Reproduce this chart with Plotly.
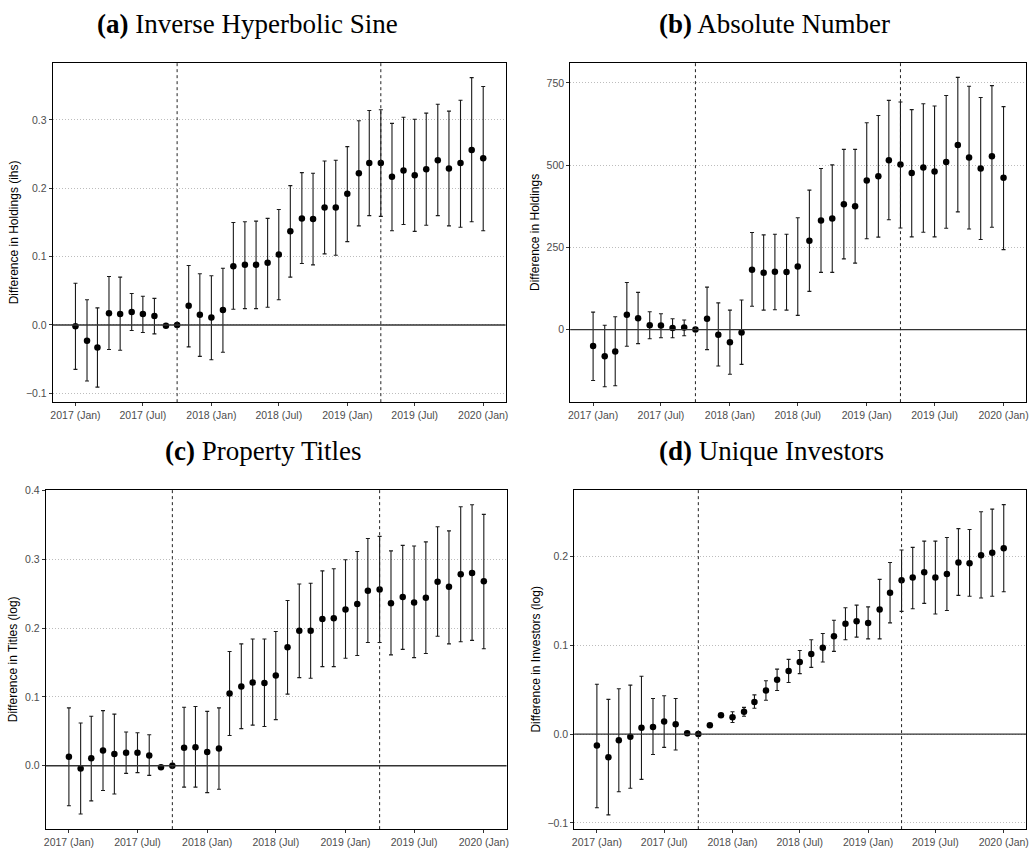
import plotly.graph_objects as go

months = ["2017-01-01","2017-02-01","2017-03-01","2017-04-01","2017-05-01","2017-06-01",
          "2017-07-01","2017-08-01","2017-09-01","2017-10-01","2017-11-01","2017-12-01",
          "2018-01-01","2018-02-01","2018-03-01","2018-04-01","2018-05-01","2018-06-01",
          "2018-07-01","2018-08-01","2018-09-01","2018-10-01","2018-11-01","2018-12-01",
          "2019-01-01","2019-02-01","2019-03-01","2019-04-01","2019-05-01","2019-06-01",
          "2019-07-01","2019-08-01","2019-09-01","2019-10-01","2019-11-01","2019-12-01",
          "2020-01-01"]

tick_vals = ["2017-01-01","2017-07-01","2018-01-01","2018-07-01","2019-01-01","2019-07-01","2020-01-01"]
tick_text = ["2017 (Jan)","2017 (Jul)","2018 (Jan)","2018 (Jul)","2019 (Jan)","2019 (Jul)","2020 (Jan)"]
event_dates = ["2017-10-01", "2019-04-01"]

titles = ["<b>(a)</b> Inverse Hyperbolic Sine", "<b>(b)</b> Absolute Number",
          "<b>(c)</b> Property Titles", "<b>(d)</b> Unique Investors"]
ytitles = ["Difference in Holdings (ihs)", "Difference in Holdings",
           "Difference in Titles (log)", "Difference in Investors (log)"]

# (a) Inverse hyperbolic sine
a_est = [-0.002,-0.023,-0.033,0.017,0.016,0.019,0.016,0.013,-0.001,0.0,0.028,0.015,0.011,0.022,
         0.086,0.088,0.088,0.091,0.103,0.137,0.156,0.155,0.172,0.172,0.192,0.222,0.237,0.237,
         0.217,0.226,0.219,0.228,0.241,0.229,0.237,0.256,0.244]
a_lo = [-0.065,-0.082,-0.091,-0.036,-0.037,-0.008,-0.011,-0.013,-0.002,0.0,-0.032,-0.046,-0.051,-0.040,
        0.023,0.024,0.024,0.026,0.037,0.070,0.090,0.088,0.104,0.102,0.122,0.145,0.160,0.159,
        0.138,0.147,0.137,0.146,0.160,0.145,0.143,0.151,0.138]
a_hi = [0.061,0.037,0.025,0.071,0.070,0.046,0.042,0.039,0.000,0.0,0.087,0.075,0.072,0.083,
        0.150,0.151,0.152,0.156,0.169,0.204,0.223,0.222,0.240,0.241,0.261,0.299,0.314,0.315,
        0.295,0.304,0.301,0.310,0.323,0.313,0.329,0.362,0.349]

# (b) Absolute number
b_est = [-50,-81,-67,45,34,13,12,5,6,0,33,-16,-39,-9,182,173,176,175,192,270,332,338,381,375,
         453,466,515,502,476,493,481,510,561,523,490,527,462]
b_lo = [-155,-174,-171,-51,-43,-28,-25,-25,-19,0,-61,-111,-136,-106,71,59,60,59,43,116,174,174,215,202,
        276,281,334,309,282,296,282,308,358,306,274,311,243]
b_hi = [53,13,39,143,113,54,48,33,29,0,129,81,59,90,295,288,290,290,340,424,490,501,548,548,
        629,651,697,692,669,687,680,712,767,740,706,742,678]

# (c) Property titles
c_est = [0.013,-0.004,0.011,0.022,0.017,0.019,0.019,0.015,-0.002,0.0,0.026,0.027,0.020,0.025,
         0.105,0.115,0.121,0.120,0.131,0.172,0.196,0.196,0.213,0.214,0.227,0.235,0.254,0.256,
         0.236,0.245,0.237,0.244,0.267,0.260,0.278,0.280,0.268]
c_lo = [-0.058,-0.070,-0.051,-0.036,-0.041,-0.011,-0.010,-0.014,-0.003,0.0,-0.031,-0.031,-0.039,-0.034,
        0.044,0.054,0.059,0.057,0.067,0.104,0.128,0.127,0.144,0.144,0.156,0.160,0.179,0.179,
        0.161,0.169,0.157,0.163,0.188,0.177,0.180,0.182,0.170]
c_hi = [0.084,0.062,0.072,0.080,0.075,0.049,0.048,0.045,-0.001,0.0,0.085,0.086,0.079,0.084,
        0.166,0.177,0.184,0.184,0.195,0.240,0.264,0.265,0.283,0.286,0.299,0.311,0.330,0.333,
        0.312,0.320,0.319,0.325,0.347,0.341,0.376,0.379,0.365]

# (d) Unique investors
d_est = [-0.013,-0.026,-0.007,-0.003,0.007,0.008,0.014,0.011,0.001,0.0,0.010,0.021,0.019,0.025,
         0.036,0.049,0.061,0.071,0.081,0.090,0.097,0.110,0.124,0.127,0.125,0.140,0.159,0.173,
         0.176,0.182,0.176,0.180,0.193,0.192,0.201,0.204,0.209]
d_lo = [-0.083,-0.091,-0.065,-0.061,-0.051,-0.023,-0.015,-0.018,0.000,0.0,0.009,0.019,0.013,0.020,
        0.029,0.038,0.049,0.058,0.068,0.075,0.081,0.093,0.106,0.109,0.107,0.107,0.125,0.138,
        0.141,0.147,0.135,0.139,0.156,0.155,0.153,0.155,0.160]
d_hi = [0.056,0.039,0.051,0.055,0.065,0.040,0.043,0.040,0.002,0.0,0.011,0.023,0.025,0.030,
        0.044,0.060,0.073,0.084,0.094,0.106,0.113,0.128,0.142,0.145,0.143,0.174,0.193,0.207,
        0.210,0.217,0.217,0.221,0.231,0.230,0.250,0.253,0.258]

panels = [
    (a_est, a_lo, a_hi, [-0.113, 0.384], [-0.1, 0.0, 0.1, 0.2, 0.3], ["\u22120.1", "0.0", "0.1", "0.2", "0.3"]),
    (b_est, b_lo, b_hi, [-221, 812], [0, 250, 500, 750], ["0", "250", "500", "750"]),
    (c_est, c_lo, c_hi, [-0.092, 0.401], [0.0, 0.1, 0.2, 0.3, 0.4], ["0.0", "0.1", "0.2", "0.3", "0.4"]),
    (d_est, d_lo, d_hi, [-0.107, 0.275], [-0.1, 0.0, 0.1, 0.2], ["\u22120.1", "0.0", "0.1", "0.2"]),
]

W, H = 1036, 850
# plot-area pixel boxes (left, right, top, bottom)
boxes = [(51, 506, 57, 399), (571, 1029, 57, 399), (44, 507, 487, 829), (575, 1029, 487, 829)]
title_pos = [(247, 18), (776, 18), (263, 448), (773, 448)]

fig = go.Figure()
layout = dict(width=W, height=H, margin=dict(l=0, r=0, t=0, b=0),
              paper_bgcolor="white", plot_bgcolor="white", showlegend=False)

shapes = []
annotations = []
for i, (est, lo, hi, yr, yt, ytt) in enumerate(panels):
    n = i + 1
    xa = "x" if n == 1 else f"x{n}"
    ya = "y" if n == 1 else f"y{n}"
    plus = [h - e for h, e in zip(hi, est)]
    minus = [e - l for e, l in zip(est, lo)]
    fig.add_trace(go.Scatter(
        x=months, y=est, mode="markers", xaxis=xa, yaxis=ya,
        marker=dict(color="black", size=6.5),
        error_y=dict(type="data", array=plus, arrayminus=minus, symmetric=False,
                     color="#1a1a1a", thickness=1.1, width=2),
    ))
    l, r, t, b = boxes[i]
    xkey = "xaxis" if n == 1 else f"xaxis{n}"
    ykey = "yaxis" if n == 1 else f"yaxis{n}"
    layout[xkey] = dict(domain=[l / W, r / W], anchor=ya, type="date",
                        range=["2016-11-01", "2020-03-01"],
                        tickvals=tick_vals, ticktext=tick_text, showgrid=False,
                        ticks="outside", ticklen=3, tickcolor="#333333",
                        tickfont=dict(family="Liberation Sans", size=10.5, color="#4d4d4d"),
                        showline=True, linecolor="black", linewidth=1, mirror=True,
                        zeroline=False)
    layout[ykey] = dict(domain=[1 - b / H, 1 - t / H], anchor=xa, range=yr,
                        tickvals=yt, ticktext=ytt, showgrid=True, gridcolor="#bdbdbd",
                        griddash="1px,2px", gridwidth=1,
                        ticks="outside", ticklen=3, tickcolor="#333333",
                        tickfont=dict(family="Liberation Sans", size=10.5, color="#4d4d4d"),
                        showline=True, linecolor="black", linewidth=1, mirror=True,
                        zeroline=False,
                        title=dict(text=ytitles[i], standoff=4,
                                   font=dict(family="Liberation Sans", size=12, color="black")))
    # horizontal zero line
    shapes.append(dict(type="line", xref=f"{xa} domain", yref=ya, x0=0, x1=1, y0=0, y1=0,
                       line=dict(color="#333333", width=1.3)))
    for d in event_dates:
        shapes.append(dict(type="line", xref=xa, yref=f"{ya} domain", x0=d, x1=d, y0=0, y1=1,
                           line=dict(color="#222222", width=1, dash="3px,3px")))
    tx, ty = title_pos[i]
    annotations.append(dict(text=titles[i], xref="paper", yref="paper", x=tx / W, y=1 - ty / H,
                            xanchor="center", yanchor="middle", showarrow=False,
                            font=dict(family="Liberation Serif", size=27, color="black")))

layout["shapes"] = shapes
layout["annotations"] = annotations
fig.update_layout(**layout)
fig.write_html("out.html", config={"displayModeBar": False},
               post_script="document.body.style.margin='0';document.body.style.overflow='hidden';")
